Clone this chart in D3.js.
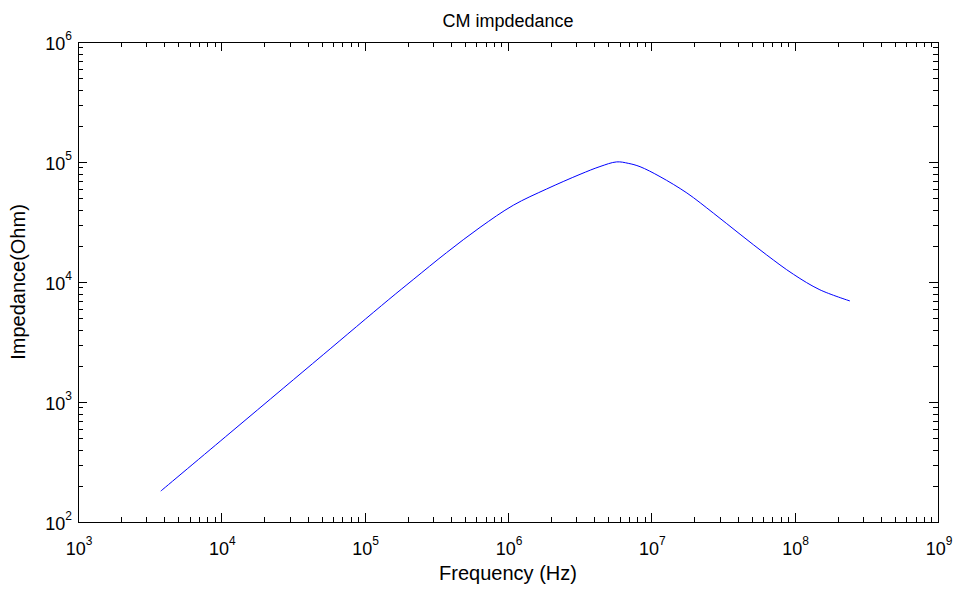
<!DOCTYPE html>
<html><head><meta charset="utf-8">
<script src="https://cdn.jsdelivr.net/npm/d3@7"></script>
<style>
body{margin:0;background:#fff;}
text{font-family:"Liberation Sans",Arial,Helvetica,sans-serif;fill:#000;}
</style></head>
<body><svg id="c" width="956" height="590"></svg>
<script>
const title = "CM impdedance";
const xLabel = "Frequency (Hz)";
const yLabel = "Impedance(Ohm)";
const xDecades = [3,4,5,6,7,8,9];
const yDecades = [2,3,4,5,6];
const freq = [3.78e3,1.15e4,2.70e4,5.14e4,1.46e5,2.18e5,3.73e5,6.38e5,1.09e6,1.86e6,3.18e6,4.38e6,5.73e6,6.90e6,8.34e6,1.15e7,1.77e7,2.71e7,4.16e7,6.38e7,9.80e7,1.50e8,2.43e8];
const imp = [181,552,1300,2480,7080,10470,17580,28510,43650,59570,78900,91600,100200,97500,91400,75500,55200,37500,25000,16800,11600,8610,6950];

const m = {l:78, r:938, t:42, b:522};
const svg = d3.select("#c");
const x = d3.scaleLog().domain([1e3,1e9]).range([m.l,m.r]);
const y = d3.scaleLog().domain([1e2,1e6]).range([m.b,m.t]);

const major = d => d.map(e=>Math.pow(10,e));
const minor = d => {const a=[];d.slice(0,-1).forEach(e=>{for(let k=2;k<10;k++)a.push(k*Math.pow(10,e));});return a;};

function drawAxis(gen, vals, size, tr){
  svg.append("g").attr("transform",tr)
    .call(gen.tickValues(vals).tickSize(size).tickFormat(""))
    .call(g=>{g.select(".domain").remove(); g.selectAll("line").attr("stroke","#000").attr("shape-rendering","crispEdges");});
}
drawAxis(d3.axisBottom(x), major(xDecades), -9, `translate(0,${m.b})`);
drawAxis(d3.axisBottom(x), minor(xDecades), -5, `translate(0,${m.b})`);
drawAxis(d3.axisTop(x), major(xDecades), -9, `translate(0,${m.t})`);
drawAxis(d3.axisTop(x), minor(xDecades), -5, `translate(0,${m.t})`);
drawAxis(d3.axisLeft(y), major(yDecades), -9, `translate(${m.l},0)`);
drawAxis(d3.axisLeft(y), minor(yDecades), -5, `translate(${m.l},0)`);
drawAxis(d3.axisRight(y), major(yDecades), -9, `translate(${m.r},0)`);
drawAxis(d3.axisRight(y), minor(yDecades), -5, `translate(${m.r},0)`);

svg.append("rect").attr("x",m.l).attr("y",m.t).attr("width",m.r-m.l).attr("height",m.b-m.t)
  .attr("fill","none").attr("stroke","#000").attr("stroke-width",1).attr("shape-rendering","crispEdges");

xDecades.forEach(e=>{
  const t = svg.append("text").attr("x",x(Math.pow(10,e))+1).attr("y",m.b+33).attr("text-anchor","middle").style("font-size","18px");
  t.append("tspan").text("10");
  t.append("tspan").attr("dy",-10).style("font-size","12px").text(e);
});
yDecades.forEach(e=>{
  const t = svg.append("text").attr("x",m.l-6).attr("y",y(Math.pow(10,e))+8).attr("text-anchor","end").style("font-size","18px");
  t.append("tspan").text("10");
  t.append("tspan").attr("dy",-10).style("font-size","12px").text(e);
});

const line = d3.line().x((d,i)=>x(freq[i])).y((d,i)=>y(imp[i])).curve(d3.curveCatmullRom.alpha(0.5));
svg.append("path").datum(freq).attr("d",line).attr("fill","none").attr("stroke","#0000ff").attr("stroke-width",1);

svg.append("text").attr("x",(m.l+m.r)/2).attr("y",27).attr("text-anchor","middle").style("font-size","18px").text(title);
svg.append("text").attr("x",(m.l+m.r)/2).attr("y",580).attr("text-anchor","middle").style("font-size","20px").text(xLabel);
svg.append("text").attr("transform",`translate(25,${(m.t+m.b)/2}) rotate(-90)`).attr("text-anchor","middle").style("font-size","20px").text(yLabel);
</script></body></html>
